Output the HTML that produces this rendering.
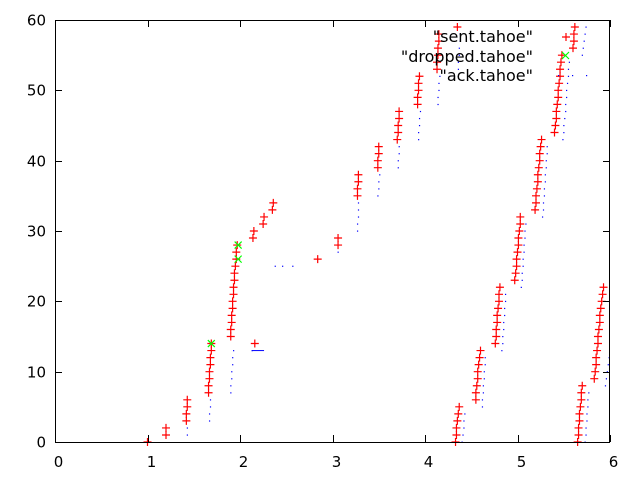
<!DOCTYPE html>
<html><head><meta charset="utf-8"><style>
html,body{margin:0;padding:0;background:#fff;}
svg{display:block;font-family:"DejaVu Sans","Liberation Sans",sans-serif;}
</style></head><body>
<svg id="chart" width="640" height="480" viewBox="0 0 640 480" xmlns="http://www.w3.org/2000/svg">
<rect x="0" y="0" width="640" height="480" fill="#fff"/>
<g id="marks"></g>
<g id="axes"></g>
<g id="legend">
<text x="533" y="42" text-anchor="end" font-size="16" fill="#000">"sent.tahoe"</text>
<path d="M562,37H570M566,33V41" stroke="#ff0000" stroke-width="1.2" fill="none"/>
<text x="533" y="62" text-anchor="end" font-size="16" fill="#000">"dropped.tahoe"</text>
<path d="M562,52L569,59M562,59L569,52" stroke="#00ff00" stroke-width="1.2" fill="none"/>
<text x="533" y="81" text-anchor="end" font-size="16" fill="#000">"ack.tahoe"</text>
<g fill="#0000ff"><rect x="558" y="75" width="1.2" height="1.2"/><rect x="572" y="75" width="1.2" height="1.2"/><rect x="586" y="75" width="1.2" height="1.2"/></g>
</g>
</svg>
<script>
const xTicks=[0,1,2,3,4,5,6];
const yTicks=[0,10,20,30,40,50,60];
const sentT=[1.00,1.20,1.20,1.42,1.42,1.43,1.43,1.66,1.66,1.67,1.67,1.68,1.68,1.69,1.69,1.90,1.90,1.91,1.91,1.92,1.92,1.93,1.93,1.94,1.94,1.95,1.96,1.96,1.97,2.16,2.14,2.15,2.25,2.26,2.35,2.36,2.84,3.06,3.06,3.27,3.27,3.28,3.28,3.49,3.49,3.50,3.50,3.70,3.71,3.71,3.72,3.72,3.92,3.92,3.93,3.93,3.94,4.13,4.13,4.14,4.14,4.15,4.15,4.35,4.33,4.34,4.34,4.35,4.36,4.37,4.55,4.55,4.56,4.57,4.57,4.58,4.59,4.60,4.76,4.77,4.77,4.78,4.78,4.79,4.80,4.80,4.81,4.97,4.98,4.99,4.99,5.00,5.01,5.01,5.02,5.03,5.03,5.19,5.20,5.20,5.21,5.22,5.22,5.23,5.24,5.24,5.25,5.26,5.40,5.41,5.42,5.42,5.43,5.44,5.44,5.45,5.46,5.46,5.47,5.48,5.60,5.61,5.61,5.62,5.65,5.66,5.66,5.67,5.67,5.68,5.69,5.69,5.70,5.83,5.84,5.85,5.85,5.86,5.87,5.87,5.88,5.89,5.89,5.90,5.91,5.92,5.93];
const sentSeq=[0,1,2,3,4,5,6,7,8,9,10,11,12,13,14,15,16,17,18,19,20,21,22,23,24,25,26,27,28,14,29,30,31,32,33,34,26,28,29,35,36,37,38,39,40,41,42,43,44,45,46,47,48,49,50,51,52,53,54,55,56,57,58,59,0,1,2,3,4,5,6,7,8,9,10,11,12,13,14,15,16,17,18,19,20,21,22,23,24,25,26,27,28,29,30,31,32,33,34,35,36,37,38,39,40,41,42,43,44,45,46,47,48,49,50,51,52,53,54,55,56,57,58,59,0,1,2,3,4,5,6,7,8,9,10,11,12,13,14,15,16,17,18,19,20,21,22];
const dropT=[1.69,1.98,1.98];
const dropSeq=[14,26,28];
const ackT=[1.43,1.43,1.67,1.67,1.68,1.68,1.90,1.90,1.91,1.91,1.92,1.92,1.93,2.13,2.38,2.46,2.57,3.06,3.27,3.27,3.28,3.28,3.28,3.49,3.50,3.50,3.51,3.71,3.71,3.72,3.72,3.93,3.93,3.94,3.94,3.95,4.14,4.14,4.15,4.15,4.16,4.36,4.36,4.37,4.37,4.38,4.38,4.40,4.41,4.42,4.42,4.43,4.62,4.62,4.63,4.63,4.64,4.64,4.65,4.65,4.83,4.84,4.84,4.85,4.85,4.86,4.86,4.87,4.87,5.04,5.05,5.05,5.06,5.06,5.07,5.07,5.08,5.08,5.09,5.27,5.28,5.28,5.29,5.29,5.30,5.30,5.31,5.31,5.32,5.32,5.49,5.50,5.50,5.51,5.52,5.52,5.53,5.53,5.54,5.55,5.55,5.56,5.70,5.71,5.72,5.73,5.74,5.73,5.74,5.74,5.75,5.75,5.76,5.76,5.77,5.95,5.96,5.97,5.98,5.99];
const ackSeq=[1,2,3,4,5,6,7,8,9,10,11,12,13,13,25,25,25,27,30,31,32,33,34,35,36,37,38,39,40,41,42,43,44,45,46,47,48,49,50,51,52,53,54,55,56,57,58,0,1,2,3,4,5,6,7,8,9,10,11,12,13,14,15,16,17,18,19,20,21,22,23,24,25,26,27,28,29,30,31,32,33,34,35,36,37,38,39,40,41,42,43,44,45,46,47,48,49,50,51,52,53,54,55,56,57,58,59,0,1,2,3,4,5,6,7,8,9,10,11,12];
const NS='http://www.w3.org/2000/svg';
const L=55,R=610,T=20,B=442;
function sx(t){return L+(t-0)/(6-0)*(R-L);}
function sy(s){return B-(s-0)/(60-0)*(B-T);}
function mk(tag,attrs,parent){const e=document.createElementNS(NS,tag);for(const k in attrs)e.setAttribute(k,attrs[k]);parent.appendChild(e);return e;}
const marks=document.getElementById('marks');
const axes=document.getElementById('axes');
for(let i=0;i<ackT.length;i++){
  const e=mk('rect',{x:sx(ackT[i])-0.5,y:sy(ackSeq[i])-0.5,width:1.2,height:1.2,fill:'#0000ff'},marks);
  
  
}
{
  const e=mk('line',{x1:sx(2.13),y1:sy(13),x2:sx(2.26),y2:sy(13),stroke:'#0000ff','stroke-width':1},marks);
  
  
}
for(let i=0;i<sentT.length;i++){
  const x=sx(sentT[i]),y=sy(sentSeq[i]);
  const e=mk('path',{d:`M${x-4},${y}H${x+4}M${x},${y-4}V${y+4}`,stroke:'#ff0000','stroke-width':1.2,fill:'none'},marks);
  
  
}
for(let i=0;i<dropT.length;i++){
  const x=sx(dropT[i]),y=sy(dropSeq[i]);
  const e=mk('path',{d:`M${x-3.5},${y-3.5}L${x+3.5},${y+3.5}M${x-3.5},${y+3.5}L${x+3.5},${y-3.5}`,stroke:'#00ff00','stroke-width':1.2,fill:'none'},marks);
  
  
}
{
  const e=mk('rect',{x:L+0.5,y:T+0.5,width:R-L-1,height:B-T,fill:'none',stroke:'#000','stroke-width':1},axes);
  
  
}
for(const v of xTicks){
  const x=Math.round(sx(v))+0.5;
  const t1=mk('path',{d:`M${x},${B}V${B-7}M${x},${T}V${T+7}`,stroke:'#000','stroke-width':1},axes);
  
  
  const tx=mk('text',{x:x+3,y:B+25,'text-anchor':'middle','font-size':15,fill:'#000'},axes);
  tx.textContent=v;
  
  
}
for(const v of yTicks){
  const y=Math.round(sy(v))+0.5;
  const t1=mk('path',{d:`M${L},${y}H${L+7}M${R},${y}H${R-7}`,stroke:'#000','stroke-width':1},axes);
  
  
  const tx=mk('text',{x:L-9,y:y+5,'text-anchor':'end','font-size':15,fill:'#000'},axes);
  tx.textContent=v;
  
  
}
</script>
</body></html>
